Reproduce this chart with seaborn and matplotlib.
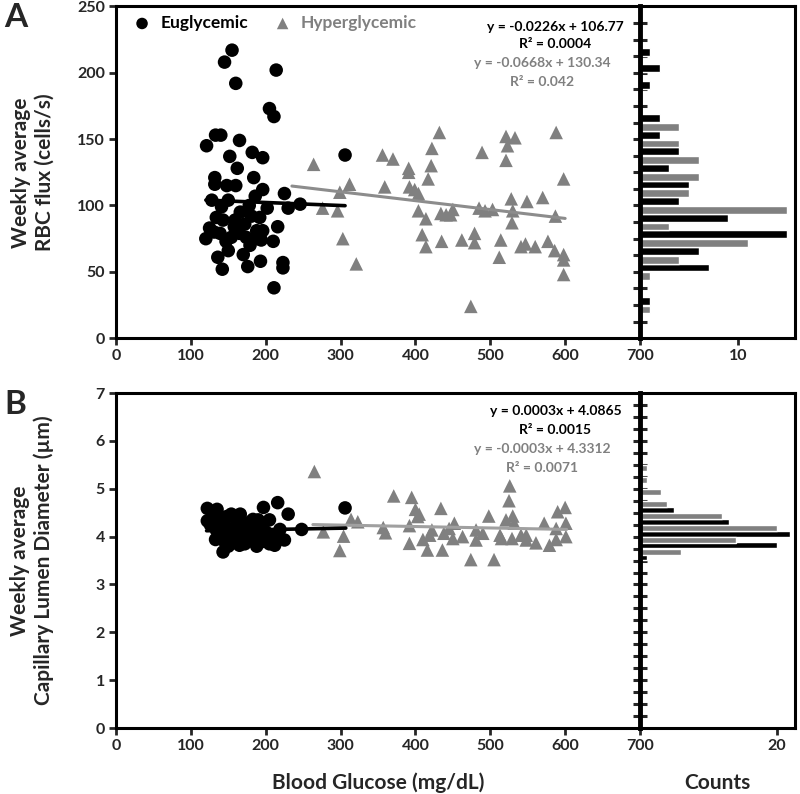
import numpy as np
import matplotlib
matplotlib.use('Agg')
import matplotlib.pyplot as plt
import seaborn as sns

sns.set_style('white')
plt.rcParams['font.family'] = ['Lato', 'DejaVu Sans']
plt.rcParams['font.weight'] = 'bold'

BLACK = '#000000'
GRAY = '#808080'

# ---- panel A: RBC flux ----
eu_glu_a = [155, 145, 214, 160, 205, 211, 133, 140, 165, 121, 182, 152, 196, 306, 162, 132,
            184, 132, 148, 160, 196, 186, 225, 246, 230, 202, 141, 166, 192, 134, 143, 159,
            172, 216, 125, 188, 196, 139, 165, 120, 174, 188, 210, 154, 147, 179, 194, 150,
            170, 136, 193, 223, 223, 142, 176, 211, 128, 150, 178, 181, 131, 158]
eu_flux_a = [217, 208, 202, 192, 173, 167, 153, 153, 149, 145, 140, 137, 136, 138, 128, 121,
             121, 116, 115, 115, 112, 107, 109, 101, 98, 98, 99, 95, 91, 91, 89, 89,
             86, 84, 83, 81, 81, 79, 79, 75, 76, 75, 73, 76, 73, 70, 74, 66,
             63, 61, 58, 57, 53, 52, 54, 38, 104, 104, 100, 92, 80, 84]

hy_glu_a = [264, 276, 296, 312, 299, 303, 321, 432, 422, 356, 370, 391, 391, 421, 417, 359,
            392, 399, 404, 489, 521, 533, 523, 521, 588, 598, 570, 549, 528, 530, 529, 587,
            485, 493, 503, 450, 434, 441, 447, 404, 414, 409, 414, 435, 462, 479, 479, 514,
            512, 541, 547, 560, 577, 586, 598, 598, 598, 474]
hy_flux_a = [131, 98, 96, 116, 110, 75, 56, 155, 143, 138, 135, 128, 125, 130, 120, 114,
             114, 112, 109, 140, 152, 151, 145, 134, 155, 120, 106, 103, 105, 96, 87, 92,
             98, 96, 97, 97, 94, 93, 93, 96, 90, 78, 69, 73, 74, 79, 72, 74,
             61, 69, 71, 69, 73, 66, 63, 59, 48, 24]

# trendlines (slope, intercept, x range) as printed on the chart
eu_fit_a = (-0.0226, 106.77, 120, 306)
hy_fit_a = (-0.0668, 130.34, 235, 600)

# histogram A (category centre, counts)
hist_a_pos = [12.5, 25, 37.5, 50, 62.5, 75, 87.5, 100, 112.5, 125, 137.5, 150, 162.5,
              175, 187.5, 200, 212.5, 225, 237.5]
hist_a_eu = [0, 1, 0, 7, 6, 15, 9, 4, 5, 3, 4, 2, 2, 0, 1, 2, 1, 0, 0]
hist_a_hy = [0, 1, 0, 1, 4, 11, 3, 15, 5, 6, 6, 4, 4, 0, 0, 0, 0, 0, 0]

# ---- panel B: lumen diameter ----
eu_glu_b = [122, 135, 122, 130, 154, 166, 197, 216, 230, 183, 205, 134, 148, 174, 194, 219,
            248, 306, 133, 156, 165, 188, 212, 225, 143, 152, 170, 180, 201, 139, 161, 190,
            148, 176, 154, 208, 132, 188, 168, 141, 126, 145, 159, 172, 185, 196, 160, 178,
            200, 138, 215, 150, 163, 186, 205]
eu_diam_b = [4.59, 4.57, 4.33, 4.35, 4.47, 4.47, 4.61, 4.71, 4.47, 4.36, 4.35, 4.14, 4.19,
             4.21, 4.17, 4.15, 4.15, 4.60, 3.94, 4.00, 3.82, 3.80, 3.82, 3.93, 3.68, 4.03,
             4.03, 3.96, 3.93, 4.28, 4.35, 4.35, 4.42, 4.00, 3.86, 4.00, 4.45, 4.07, 4.14,
             4.07, 4.25, 3.90, 4.10, 3.85, 4.20, 3.90, 3.95, 4.30, 4.10, 4.00, 4.05, 3.80,
             4.25, 3.90, 3.85]

hy_glu_b = [265, 371, 314, 323, 277, 304, 299, 357, 360, 395, 400, 405, 403, 434, 392, 392,
            410, 419, 422, 416, 436, 438, 445, 452, 450, 463, 474, 481, 481, 490, 498, 505,
            513, 521, 525, 526, 530, 532, 529, 541, 548, 548, 561, 572, 579, 588, 590, 600,
            601, 601, 588, 515]
hy_diam_b = [5.36, 4.85, 4.36, 4.31, 4.10, 4.01, 3.71, 4.19, 4.08, 4.82, 4.57, 4.47, 4.42,
             4.59, 4.23, 3.86, 3.94, 4.03, 4.14, 3.72, 3.72, 4.07, 4.17, 4.28, 3.96, 4.00,
             3.52, 4.14, 3.93, 4.07, 4.43, 3.52, 4.03, 4.35, 4.75, 5.06, 4.43, 4.28, 3.96,
             4.03, 4.03, 3.93, 3.87, 4.28, 3.82, 3.94, 4.52, 4.61, 4.28, 4.00, 4.17, 3.96]

eu_fit_b = (0.0003, 4.0865, 121, 307)
hy_fit_b = (-0.0003, 4.3312, 263, 602)

hist_b_pos = [0.25 * k for k in range(1, 28)]
hist_b_eu = [0] * 13 + [1, 20, 22, 13, 5] + [0] * 9
hist_b_hy = [0] * 14 + [6, 14, 20, 12, 4, 3, 1, 1] + [0] * 5


fig = plt.figure(figsize=(8, 7.94), dpi=100)
axA = fig.add_axes([0.145, 0.574, 0.655, 0.418])
hA = fig.add_axes([0.8, 0.574, 0.194, 0.418])
axB = fig.add_axes([0.145, 0.083, 0.655, 0.422])
hB = fig.add_axes([0.8, 0.083, 0.194, 0.422])


def draw_scatter(ax, ex, ey, hx, hy, efit, hfit, legend, gline):
    sns.scatterplot(x=ex, y=ey, ax=ax, color=BLACK, marker='o', s=95,
                    edgecolor='none', label='Euglycemic' if legend else None, zorder=3)
    sns.scatterplot(x=hx, y=hy, ax=ax, color=GRAY, marker='^', s=95,
                    edgecolor='none', label='Hyperglycemic' if legend else None, zorder=3)
    m, b, x0, x1 = hfit
    sns.lineplot(x=[x0, x1], y=[m * x0 + b, m * x1 + b], ax=ax, color=gline, lw=2.2, zorder=4)
    m, b, x0, x1 = efit
    sns.lineplot(x=[x0, x1], y=[m * x0 + b, m * x1 + b], ax=ax, color=BLACK, lw=2.6, zorder=4)
    ax.set_xlim(0, 700)
    ax.set_xticks(range(0, 701, 100))
    ax.tick_params(axis='both', direction='out', length=5, width=2, labelsize=11.5,
                   left=True, bottom=True, pad=3)
    for s in ax.spines.values():
        s.set_linewidth(2.2)
        s.set_color(BLACK)


def draw_hist(ax, pos, eu, hy, off, h, xmax, xt, ylim):
    pos = np.array(pos)
    ax.barh(pos + off, eu, height=h, color=BLACK)
    ax.barh(pos - off, hy, height=h, color=GRAY)
    ax.set_xlim(0, xmax)
    ax.set_ylim(*ylim)
    ax.set_xticks([xt])
    ax.set_yticks(pos)
    ax.tick_params(axis='y', direction='inout', length=10, width=2.2, left=True, labelleft=False)
    ax.tick_params(axis='x', direction='out', length=5, width=2, labelsize=11.5, bottom=True, pad=3)
    for s in ax.spines.values():
        s.set_linewidth(2.2)
        s.set_color(BLACK)
    ax.spines['left'].set_linewidth(3.5)


draw_scatter(axA, eu_glu_a, eu_flux_a, hy_glu_a, hy_flux_a, eu_fit_a, hy_fit_a, True, '#8c8c8c')
axA.set_ylim(0, 250)
axA.set_yticks(range(0, 251, 50))
axA.set_ylabel('Weekly average\nRBC flux (cells/s)', fontsize=15, fontweight='bold')
axA.yaxis.set_label_coords(-0.118, 0.5)
axA.legend(loc='upper left', ncol=2, frameon=False, fontsize=12.5, handletextpad=0.05,
           columnspacing=1.0, markerscale=0.85, labelcolor=[BLACK, GRAY],
           borderaxespad=0.2, borderpad=0.3)

axA.text(587, 234.8, 'y = -0.0226x + 106.77', ha='center', va='center', fontsize=10, color=BLACK)
axA.text(587, 221.3, 'R² = 0.0004', ha='center', va='center', fontsize=10, color=BLACK)
axA.text(569, 207, 'y = -0.0668x + 130.34', ha='center', va='center', fontsize=10, color=GRAY)
axA.text(569, 192.7, 'R² = 0.042', ha='center', va='center', fontsize=10, color=GRAY)

draw_scatter(axB, eu_glu_b, eu_diam_b, hy_glu_b, hy_diam_b, eu_fit_b, hy_fit_b, False, '#a0a0a0')
axB.set_ylim(0, 7)
axB.set_yticks(range(0, 8))
axB.set_ylabel('Weekly average\nCapillary Lumen Diameter (µm)', fontsize=15, fontweight='bold')
axB.yaxis.set_label_coords(-0.118, 0.5)
axB.set_xlabel('Blood Glucose (mg/dL)', fontsize=15, fontweight='bold', labelpad=14)

axB.text(587, 6.63, 'y = 0.0003x + 4.0865', ha='center', va='center', fontsize=10, color=BLACK)
axB.text(587, 6.23, 'R² = 0.0015', ha='center', va='center', fontsize=10, color=BLACK)
axB.text(569, 5.83, 'y = -0.0003x + 4.3312', ha='center', va='center', fontsize=10, color=GRAY)
axB.text(569, 5.44, 'R² = 0.0071', ha='center', va='center', fontsize=10, color=GRAY)

draw_hist(hA, hist_a_pos, hist_a_eu, hist_a_hy, 3.3, 5.8, 15.8, 10, (0, 250))
draw_hist(hB, hist_b_pos, hist_b_eu, hist_b_hy, 0.065, 0.125, 22.7, 20, (0, 7))
hB.set_xlabel('Counts', fontsize=15, fontweight='bold', labelpad=14)

fig.text(0.005, 0.978, 'A', fontsize=24, fontweight='bold', va='center')
fig.text(0.005, 0.49, 'B', fontsize=24, fontweight='bold', va='center')

fig.savefig('out.png', dpi=100)
